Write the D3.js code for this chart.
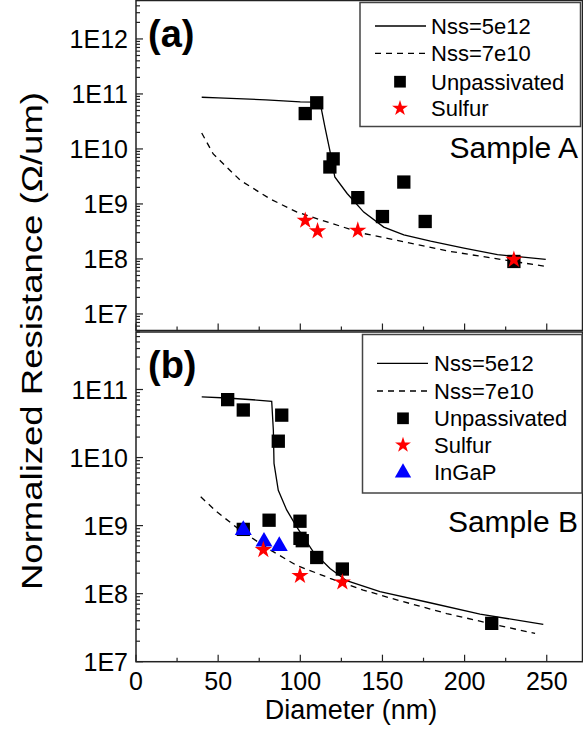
<!DOCTYPE html>
<html><head><meta charset="utf-8">
<script src="https://cdn.jsdelivr.net/npm/d3@7"></script>
<style>html,body{margin:0;padding:0;background:#fff}svg{display:block}</style>
</head><body>
<svg id="c" width="583" height="740"></svg>
<script>
// ---------------- data ----------------
// Panel (a) : Sample A
const aUnpassD = [103, 110, 120, 118, 135, 150, 163, 176, 230];
const aUnpassR = [4.4e10, 6.9e10, 6.6e9, 4.7e9, 1.3e9, 5.9e8, 2.5e9, 4.8e8, 9.0e7];
const aSulfurD = [103, 110.5, 135, 230];
const aSulfurR = [5.0e8, 3.2e8, 3.3e8, 9.7e7];
const aSolidD = [40, 50, 79, 100, 112, 115, 118, 121, 128.5, 138.6, 150.8, 163, 179.3, 199.6, 220, 249.4];
const aSolidR = [8.7e10, 8.5e10, 7.8e10, 7.2e10, 7.1e10, 2.5e10, 9.3e9, 3.1e9, 1.55e9, 7.1e8, 3.8e8, 2.75e8, 2.1e8, 1.58e8, 1.2e8, 9.8e7];
const aDashD = [40, 47, 63.4, 81.7, 98, 118.3, 138.6, 163, 189.4, 220, 248.4];
const aDashR = [1.95e10, 8.1e9, 2.7e9, 1.23e9, 7.1e8, 4.5e8, 2.9e8, 2.05e8, 1.4e8, 1.0e8, 7.4e7];
// Panel (b) : Sample B
const bUnpassD = [55.8, 65.3, 88.7, 86.6, 81, 99.8, 99.8, 101.2, 110, 125.6, 216.5, 65.3];
const bUnpassR = [7.1e10, 5.0e10, 4.2e10, 1.74e10, 1.2e9, 1.16e9, 6.5e8, 6.0e8, 3.4e8, 2.3e8, 3.66e7, 8.8e8];
const bSulfurD = [77.5, 99.8, 125.6];
const bSulfurR = [4.4e8, 1.83e8, 1.47e8];
const bIngapD = [65.3, 77.9, 87.2];
const bIngapR = [8.6e8, 5.8e8, 5.0e8];
const bSolidD = [40, 55.2, 73.5, 82.6, 83.6, 84, 86.6, 91.7, 97.8, 107.9, 118.1, 128.2, 148.5, 178.9, 209.4, 247.9];
const bSolidR = [7.8e10, 7.5e10, 7.0e10, 6.7e10, 2.5e10, 8.2e9, 3.3e9, 1.7e9, 9.6e8, 4.1e8, 2.35e8, 1.55e8, 1.07e8, 7.35e7, 5.0e7, 3.54e7];
const bDashD = [39.4, 49.1, 63.3, 81.6, 97.8, 118.1, 138.3, 158.7, 189.1, 219.5, 242.9];
const bDashR = [2.65e9, 1.6e9, 8.6e8, 4.4e8, 2.6e8, 1.68e8, 1.13e8, 8.1e7, 5.1e7, 3.46e7, 2.6e7];

const xTicks = [0, 50, 100, 150, 200, 250];
const xMinor = [25, 75, 125, 175, 225];
const aYLabels = ["1E7", "1E8", "1E9", "1E10", "1E11", "1E12"];
const aYMajor = [1e7, 1e8, 1e9, 1e10, 1e11, 1e12];
const bYLabels = ["1E7", "1E8", "1E9", "1E10", "1E11"];
const bYMajor = [1e7, 1e8, 1e9, 1e10, 1e11];
const legendA = ["Nss=5e12", "Nss=7e10", "Unpassivated", "Sulfur"];
const legendB = ["Nss=5e12", "Nss=7e10", "Unpassivated", "Sulfur", "InGaP"];

// ---------------- drawing ----------------
const svg = d3.select("#c");
const FONT = "'Liberation Sans', Arial, sans-serif";
const L = 136, R = 582.5;
const x = d3.scaleLinear().domain([0, 272]).range([L, L + 272 * 1.643]);

const panels = [
  {top: 0.5, bot: 330.5, y: d3.scaleLog().domain([5e6, 5e12]).range([330.5, 0.5]),
   major: aYMajor, labels: aYLabels, tag: "(a)", sample: "Sample A", legend: legendA,
   unD: aUnpassD, unR: aUnpassR, suD: aSulfurD, suR: aSulfurR, inD: null, inR: null,
   soD: aSolidD, soR: aSolidR, daD: aDashD, daR: aDashR, xLabels: false,
   leg: {x0: 360, y0: 2.5, x1: 580.5, y1: 126.5, rows: [26, 53.3, 81.7, 108.3], lx0: 375, lx1: 426, mx: 400, tx: 431}},
  {top: 332, bot: 661.7, y: d3.scaleLog().domain([1e7, 7e11]).range([661.7, 332]),
   major: bYMajor, labels: bYLabels, tag: "(b)", sample: "Sample B", legend: legendB,
   unD: bUnpassD, unR: bUnpassR, suD: bSulfurD, suR: bSulfurR, inD: bIngapD, inR: bIngapR,
   soD: bSolidD, soR: bSolidR, daD: bDashD, daR: bDashR, xLabels: true,
   leg: {x0: 362.5, y0: 334.5, x1: 582, y1: 493, rows: [363.3, 391, 418.3, 445, 471.7], lx0: 377, lx1: 428, mx: 403, tx: 434}}
];

const star = d3.symbol().type(d3.symbolStar);
const sq = d3.symbol().type(d3.symbolSquare);
const tri = d3.symbol().type(d3.symbolTriangle);

panels.forEach((p, pi) => {
  const g = svg.append("g");
  const y = p.y;
  // frame
  g.append("rect").attr("x", L).attr("y", p.top).attr("width", R - L).attr("height", p.bot - p.top)
    .attr("fill", "none").attr("stroke", "#222").attr("stroke-width", 1.5);
  // y ticks (inward)
  const ticks = y.ticks().filter(t => t >= y.domain()[0] && t <= y.domain()[1]);
  ticks.forEach(t => {
    const isMaj = Math.abs(Math.log10(t) - Math.round(Math.log10(t))) < 1e-9;
    g.append("line").attr("x1", L).attr("x2", L + (isMaj ? 7 : 4))
      .attr("y1", y(t)).attr("y2", y(t)).attr("stroke", "#222").attr("stroke-width", 1.2);
  });
  p.major.forEach((t, i) => {
    g.append("text").attr("x", 128).attr("y", y(t)).attr("dy", "0.36em")
      .attr("text-anchor", "end").attr("font-family", FONT).attr("font-size", 25)
      .text(p.labels[i]);
  });
  // x ticks (inward, on bottom axis)
  xTicks.forEach(t => g.append("line").attr("x1", x(t)).attr("x2", x(t)).attr("y1", p.bot).attr("y2", p.bot - 7)
    .attr("stroke", "#222").attr("stroke-width", 1.2));
  xMinor.forEach(t => g.append("line").attr("x1", x(t)).attr("x2", x(t)).attr("y1", p.bot).attr("y2", p.bot - 4)
    .attr("stroke", "#222").attr("stroke-width", 1.2));
  if (p.xLabels) {
    xTicks.forEach(t => g.append("text").attr("x", x(t)).attr("y", 690).attr("text-anchor", "middle")
      .attr("font-family", FONT).attr("font-size", 25).text(t));
  }
  // curves
  const line = d3.line().x(d => x(d[0])).y(d => y(d[1]));
  g.append("path").attr("d", line(p.soD.map((d, i) => [d, p.soR[i]])))
    .attr("fill", "none").attr("stroke", "#000").attr("stroke-width", 1.3);
  g.append("path").attr("d", line(p.daD.map((d, i) => [d, p.daR[i]])))
    .attr("fill", "none").attr("stroke", "#000").attr("stroke-width", 1.3).attr("stroke-dasharray", "6,5");
  // markers
  p.unD.forEach((d, i) => g.append("path").attr("d", sq.size(177)()).attr("transform", `translate(${x(d)},${y(p.unR[i])})`).attr("fill", "#000"));
  if (p.inD) p.inD.forEach((d, i) => g.append("path").attr("d", tri.size(125)()).attr("transform", `translate(${x(d)},${y(p.inR[i])})`).attr("fill", "#0000ff"));
  p.suD.forEach((d, i) => g.append("path").attr("d", star.size(92)()).attr("transform", `translate(${x(d)},${y(p.suR[i])})`).attr("fill", "#ff0000"));
  // panel tag & sample label
  g.append("text").attr("x", 148).attr("y", p.top + 46).attr("font-family", FONT).attr("font-weight", "bold")
    .attr("font-size", 38).text(p.tag);
  g.append("text").attr("x", 578).attr("y", pi === 0 ? 158.3 : 531.7).attr("text-anchor", "end")
    .attr("font-family", FONT).attr("font-size", 30).text(p.sample);
  // legend
  const lg = p.leg;
  g.append("rect").attr("x", lg.x0).attr("y", lg.y0).attr("width", lg.x1 - lg.x0).attr("height", lg.y1 - lg.y0)
    .attr("fill", "#fff").attr("stroke", "#444").attr("stroke-width", 1.5);
  p.legend.forEach((name, i) => {
    const ry = lg.rows[i];
    if (i === 0) g.append("line").attr("x1", lg.lx0).attr("x2", lg.lx1).attr("y1", ry).attr("y2", ry).attr("stroke", "#000").attr("stroke-width", 1.3);
    if (i === 1) g.append("line").attr("x1", lg.lx0).attr("x2", lg.lx1).attr("y1", ry).attr("y2", ry).attr("stroke", "#000").attr("stroke-width", 1.3).attr("stroke-dasharray", "6,5");
    if (i === 2) g.append("path").attr("d", sq.size(137)()).attr("transform", `translate(${lg.mx},${ry})`).attr("fill", "#000");
    if (i === 3) g.append("path").attr("d", star.size(78)()).attr("transform", `translate(${lg.mx},${ry})`).attr("fill", "#ff0000");
    if (i === 4) g.append("path").attr("d", tri.size(115)()).attr("transform", `translate(${lg.mx},${ry + 1})`).attr("fill", "#0000ff");
    g.append("text").attr("x", lg.tx).attr("y", ry).attr("dy", "0.36em").attr("font-family", FONT)
      .attr("font-size", 22).text(name);
  });
});

// axis titles
svg.append("text").attr("x", 351).attr("y", 719).attr("text-anchor", "middle").attr("font-family", FONT)
  .attr("font-size", 27).text("Diameter (nm)");
svg.append("text").attr("transform", "translate(42,341) rotate(-90)").attr("text-anchor", "middle")
  .attr("font-family", FONT).attr("font-size", 30).attr("textLength", 498).attr("lengthAdjust", "spacingAndGlyphs")
  .text("Normalized Resistance (Ω/um)");
</script>
</body></html>
